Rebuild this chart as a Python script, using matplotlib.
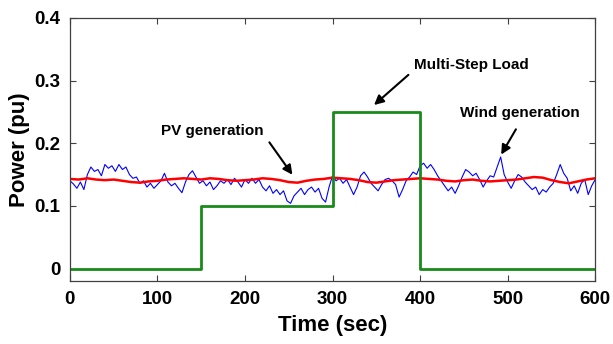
import numpy as np
import matplotlib
matplotlib.use("Agg")
import matplotlib.pyplot as plt

wind_t = np.arange(0, 601, 4)
wind = [0.140, 0.135, 0.128, 0.138, 0.126, 0.150, 0.162, 0.155, 0.158, 0.148,
        0.166, 0.160, 0.164, 0.155, 0.166, 0.158, 0.162, 0.150, 0.144, 0.146,
        0.136, 0.140, 0.130, 0.136, 0.128, 0.134, 0.140, 0.152, 0.138, 0.132,
        0.136, 0.128, 0.121, 0.138, 0.150, 0.156, 0.146, 0.136, 0.140, 0.132,
        0.138, 0.126, 0.132, 0.140, 0.136, 0.142, 0.134, 0.144, 0.138, 0.130,
        0.142, 0.136, 0.144, 0.136, 0.142, 0.130, 0.124, 0.132, 0.120, 0.126,
        0.118, 0.124, 0.108, 0.104, 0.116, 0.122, 0.128, 0.118, 0.126, 0.130,
        0.122, 0.128, 0.112, 0.106, 0.130, 0.148, 0.140, 0.144, 0.136, 0.142,
        0.130, 0.118, 0.130, 0.148, 0.154, 0.146, 0.136, 0.130, 0.124, 0.134,
        0.142, 0.144, 0.140, 0.134, 0.114, 0.126, 0.140, 0.146, 0.154, 0.150,
        0.164, 0.168, 0.160, 0.166, 0.158, 0.148, 0.140, 0.132, 0.124, 0.130,
        0.120, 0.132, 0.146, 0.158, 0.154, 0.148, 0.152, 0.142, 0.130, 0.140,
        0.148, 0.146, 0.162, 0.178, 0.150, 0.138, 0.128, 0.140, 0.150, 0.146,
        0.138, 0.132, 0.126, 0.130, 0.118, 0.126, 0.122, 0.130, 0.136, 0.150,
        0.166, 0.152, 0.144, 0.124, 0.132, 0.120, 0.136, 0.142, 0.118, 0.132,
        0.142]

# PV generation, every 10 s
pv_t = np.arange(0, 601, 10)
pv = [0.143, 0.142, 0.144, 0.142, 0.141, 0.142, 0.140, 0.138, 0.137, 0.139,
      0.140, 0.142, 0.143, 0.144, 0.143, 0.142, 0.144, 0.143, 0.141, 0.140,
      0.141, 0.142, 0.144, 0.143, 0.141, 0.138, 0.137, 0.140, 0.142, 0.143,
      0.145, 0.144, 0.143, 0.141, 0.138, 0.137, 0.139, 0.141, 0.142, 0.143,
      0.144, 0.143, 0.142, 0.140, 0.139, 0.141, 0.142, 0.140, 0.139, 0.140,
      0.141, 0.142, 0.144, 0.146, 0.145, 0.141, 0.138, 0.136, 0.139, 0.142,
      0.144]

# multi-step load
load_t = [0, 150, 300, 400, 600]
load = [0, 0.1, 0.25, 0, 0]

plt.rcParams['font.family'] = ['Liberation Sans', 'DejaVu Sans']
plt.rcParams['font.weight'] = 'bold'

fig = plt.figure(figsize=(6.13, 3.44), dpi=100)
ax = fig.add_axes([0.114, 0.183, 0.857, 0.765])

ax.plot(wind_t, wind, color='#0000ff', lw=0.8)
ax.plot(pv_t, pv, color='#ff0000', lw=1.8)
ax.plot(load_t, load, color='#1a8a1a', lw=2, drawstyle='steps-post')

ax.set_xlim(0, 600)
ax.set_ylim(-0.02, 0.4)
ax.set_xticks([0, 100, 200, 300, 400, 500, 600])
ax.set_yticks([0, 0.1, 0.2, 0.3, 0.4])
ax.set_yticklabels(['0', '0.1', '0.2', '0.3', '0.4'])
ax.tick_params(direction='in', top=True, right=True, labelsize=13.5,
               length=4, width=0.8, color='#404040', pad=7)
for lab in ax.get_xticklabels() + ax.get_yticklabels():
    lab.set_fontweight('bold')
for sp in ax.spines.values():
    sp.set_color('#404040')
    sp.set_linewidth(0.9)

ax.set_xlabel('Time (sec)', fontsize=16, fontweight='bold', labelpad=5)
ax.set_ylabel('Power (pu)', fontsize=16, fontweight='bold', labelpad=3)

arrow = dict(arrowstyle='-|>', color='black', lw=1.5, mutation_scale=14)
ax.annotate('', xy=(256, 0.146), xytext=(226, 0.205), arrowprops=arrow)
ax.text(163, 0.219, 'PV generation', fontsize=11, fontweight='bold',
        ha='center', va='center')
ax.annotate('', xy=(345, 0.258), xytext=(389, 0.312), arrowprops=arrow)
ax.text(459, 0.325, 'Multi-Step Load', fontsize=11, fontweight='bold',
        ha='center', va='center')
ax.annotate('', xy=(491, 0.178), xytext=(511, 0.226), arrowprops=arrow)
ax.text(514, 0.248, 'Wind generation', fontsize=11, fontweight='bold',
        ha='center', va='center')

fig.savefig('out.png', dpi=100)
